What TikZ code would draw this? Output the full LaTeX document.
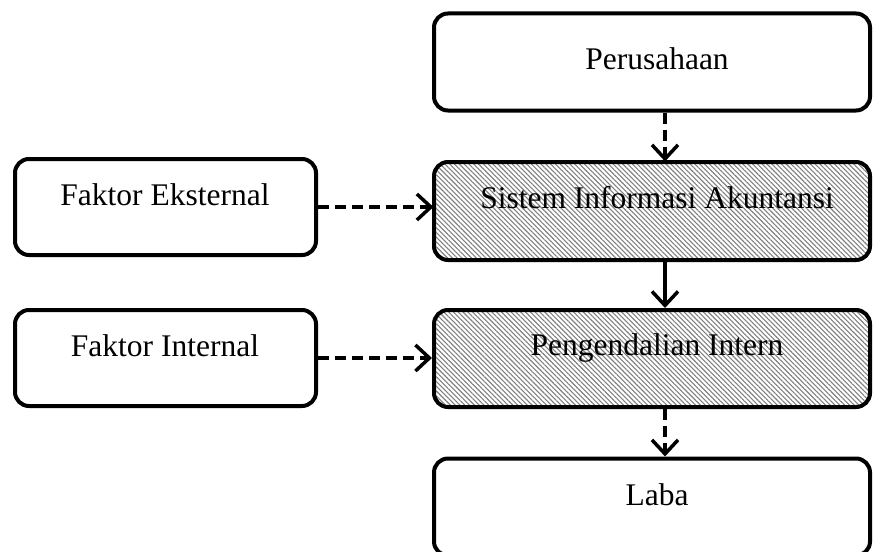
\documentclass[tikz,border=0pt]{standalone}
\usepackage{fontspec}
\setmainfont{Liberation Serif}
\usetikzlibrary{arrows.meta,patterns.meta}
\begin{document}
\begin{tikzpicture}[x=1pt,y=-1pt,
  box/.style={draw, line width=4pt, rounded corners=14pt, minimum width=436pt, minimum height=97pt, inner sep=0pt},
  lbox/.style={box, minimum width=301pt, minimum height=96pt},
  hatched/.style={pattern={Lines[angle=-45,distance=3.4pt,line width=1.1pt]}, pattern color=black!50},
  lbl/.style={anchor=base, font=\fontsize{31.5}{36}\selectfont, inner sep=0pt},
  link/.style={line width=3.5pt, -{Straight Barb[length=14pt,width=26pt]}},
  dlink/.style={link, dash pattern=on 11pt off 6pt}
]
\useasboundingbox (0,0) rectangle (874,551);
% right column boxes
\node[box] (per) at (652,62) {};
\node[box, hatched, minimum height=98pt] (sia) at (652,211) {};
\node[box, hatched] (peng) at (652,358.5) {};
\node[box] (laba) at (652,507) {};
% left boxes
\node[lbox] (eks) at (165.5,207) {};
\node[lbox] (int) at (165.5,358) {};
% labels
\node[lbl] (perT) at (657,70) {Perusahaan};
\node[lbl] (siaT) at (657,208) {Sistem Informasi Akuntansi};
\node[lbl] (pengT) at (657,355) {Pengendalian Intern};
\node[lbl] (labaT) at (657,505) {Laba};
\node[lbl] (eksT) at (165,205) {Faktor Eksternal};
\node[lbl] (intT) at (165,356) {Faktor Internal};
% connectors
\coordinate (col) at (665,0);
\draw[dlink] (per.south -| col) -- (sia.north -| col);
\draw[link] (sia.south -| col) -- (peng.north -| col);
\draw[dlink] (peng.south -| col) -- (laba.north -| col);
\draw[dlink] (eks.east) -- (eks.east -| sia.west);
\draw[dlink] (int.east) -- (int.east -| peng.west);
\end{tikzpicture}
\end{document}
